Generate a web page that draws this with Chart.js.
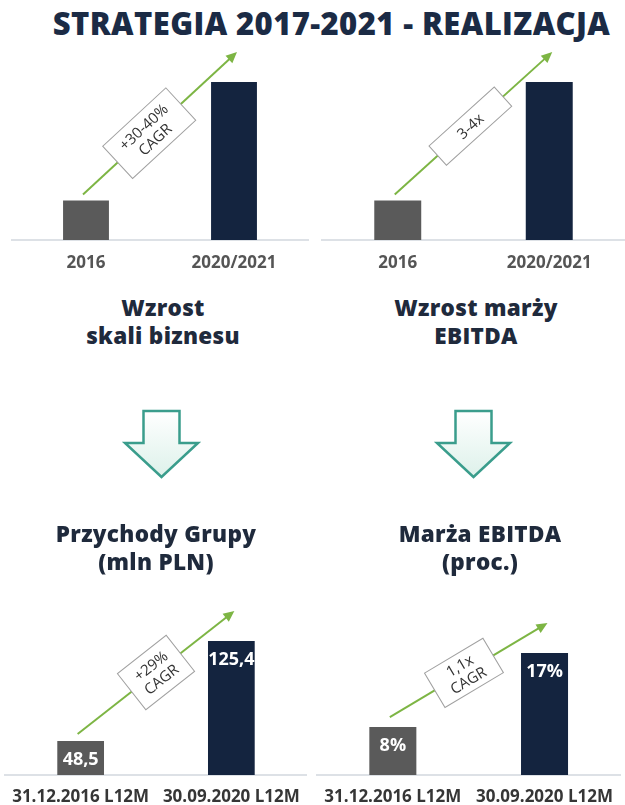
<!DOCTYPE html>
<html>
<head>
<meta charset="utf-8">
<script src="https://cdn.jsdelivr.net/npm/chart.js@4"></script>
<style>
  body { margin: 0; background: #fff; }
  #page { position: relative; width: 625px; height: 805px; overflow: hidden; font-family: 'Open Sans', sans-serif; }
  canvas { position: absolute; }
  .txt { position: absolute; text-align: center; font-weight: 800; color: #1f2a3c; font-size: 22.5px; line-height: 28px; letter-spacing: 0.3px; }
  #title { position: absolute; left: 0; width: 663px; top: 2px; text-align: center; font-weight: 800; font-size: 31px; color: #1b2b45; letter-spacing: 0.4px; }
</style>
</head>
<body>
<div id="page">
  <div id="title">STRATEGIA 2017-2021 - REALIZACJA</div>

  <canvas id="scaleChart" width="312" height="240" style="left:0;top:40px"></canvas>
  <canvas id="marginChart" width="313" height="240" style="left:312px;top:40px"></canvas>

  <div class="txt" style="left:43px;width:240px;top:294px">Wzrost<br>skali biznesu</div>
  <div class="txt" style="left:356px;width:240px;top:294px">Wzrost marży<br>EBITDA</div>

  <svg width="625" height="805" style="position:absolute;left:0;top:0">
    <defs>
      <linearGradient id="mint" x1="0" y1="0" x2="0" y2="1">
        <stop offset="0" stop-color="#ffffff"/>
        <stop offset="1" stop-color="#ddf1ea"/>
      </linearGradient>
    </defs>
    <polygon points="143.5,411 179.5,411 179.5,443 198,443 161.5,477 125,443 143.5,443" fill="url(#mint)" stroke="#3a9d8c" stroke-width="2.5" stroke-linejoin="miter"/>
    <polygon points="455.5,411 491.5,411 491.5,443 510,443 473.5,477 437,443 455.5,443" fill="url(#mint)" stroke="#3a9d8c" stroke-width="2.5" stroke-linejoin="miter"/>
  </svg>

  <div class="txt" style="left:36px;width:240px;top:520px">Przychody Grupy<br>(mln PLN)</div>
  <div class="txt" style="left:360px;width:240px;top:520px">Marża EBITDA<br>(proc.)</div>

  <canvas id="revenueChart" width="312" height="225" style="left:0;top:580px"></canvas>
  <canvas id="ebitdaChart" width="313" height="225" style="left:312px;top:580px"></canvas>
</div>

<script>
// schematic strategy targets (relative bar heights, no numbers shown)
const scaleLabels = ['2016', '2020/2021'];
const scaleValues = [1, 4];
const marginLabels = ['2016', '2020/2021'];
const marginValues = [1, 4];

// realisation
const revenueLabels = ['31.12.2016 L12M', '30.09.2020 L12M'];
const revenueValues = [48.5, 125.4];
const ebitdaLabels = ['31.12.2016 L12M', '30.09.2020 L12M'];
const ebitdaValues = [8, 17];

const growthNotes = {
  scale: ['+30-40%', 'CAGR'],
  margin: ['3-4x'],
  revenue: ['+29%', 'CAGR'],
  ebitda: ['1,1x', 'CAGR']
};

const barColors = ['#5a5a5a', '#14243f'];
const arrowGreen = '#7db544';

const growthArrow = {
  id: 'growthArrow',
  afterDatasetsDraw(chart, args, opts) {
    const ctx = chart.ctx;
    const bars = chart.getDatasetMeta(0).data;
    const a = bars[0], b = bars[1];

    // value labels inside the bars
    if (opts.format) {
      ctx.save();
      ctx.fillStyle = '#fff';
      ctx.font = 'bold 18px "Open Sans"';
      ctx.textAlign = 'center';
      ctx.textBaseline = 'middle';
      bars.forEach((bar, i) => {
        ctx.fillText(opts.format(chart.data.datasets[0].data[i]), bar.x, bar.y + 19);
      });
      ctx.restore();
    }

    // green growth arrow
    const x1 = a.x - 3, y1 = a.y - opts.startGap;
    const x2 = b.x + 3, y2 = b.y - 30;
    const ang = Math.atan2(y2 - y1, x2 - x1);
    ctx.save();
    ctx.strokeStyle = arrowGreen;
    ctx.fillStyle = arrowGreen;
    ctx.lineWidth = 2;
    ctx.beginPath();
    ctx.moveTo(x1, y1);
    ctx.lineTo(x2 - 8 * Math.cos(ang), y2 - 8 * Math.sin(ang));
    ctx.stroke();
    ctx.translate(x2, y2);
    ctx.rotate(ang);
    ctx.beginPath();
    ctx.moveTo(0, 0);
    ctx.lineTo(-11, -5);
    ctx.lineTo(-11, 5);
    ctx.closePath();
    ctx.fill();
    ctx.restore();

    // note box along the arrow
    const cx = x1 + (x2 - x1) * opts.at, cy = y1 + (y2 - y1) * opts.at;
    ctx.save();
    ctx.translate(cx, cy);
    ctx.rotate(ang);
    ctx.fillStyle = '#fff';
    ctx.strokeStyle = '#a0a0a0';
    ctx.lineWidth = 1;
    ctx.fillRect(-opts.w / 2, -opts.h / 2, opts.w, opts.h);
    ctx.strokeRect(-opts.w / 2, -opts.h / 2, opts.w, opts.h);
    ctx.fillStyle = '#333';
    ctx.font = '15px "Open Sans"';
    ctx.textAlign = 'center';
    ctx.textBaseline = 'middle';
    const lines = opts.note;
    lines.forEach((t, i) => {
      ctx.fillText(t, 0, (i - (lines.length - 1) / 2) * 17 + 1);
    });
    ctx.restore();
  }
};

function makeChart(id, labels, values, cfg) {
  return new Chart(document.getElementById(id), {
    type: 'bar',
    data: {
      labels: labels,
      datasets: [{
        data: values,
        backgroundColor: barColors,
        borderWidth: 0,
        barPercentage: 1,
        categoryPercentage: 0.31
      }]
    },
    options: {
      responsive: false,
      animation: false,
      layout: { padding: cfg.padding },
      plugins: {
        legend: { display: false },
        tooltip: { enabled: false },
        growthArrow: cfg.arrow
      },
      scales: {
        x: {
          grid: { display: false, drawTicks: false },
          border: { display: true, color: '#dde1e6', width: 2 },
          ticks: {
            color: cfg.tickColor,
            padding: cfg.tickPad,
            font: { family: 'Open Sans', weight: 'bold', size: 17 }
          },
          afterFit: s => { s.height = cfg.axisH; }
        },
        y: { display: false, min: cfg.min, max: cfg.max }
      }
    },
    plugins: [growthArrow]
  });
}

const fmtNum = v => String(v).replace('.', ',');
const fmtPct = v => v + '%';

makeChart('scaleChart', scaleLabels, scaleValues, {
  padding: { left: 12, right: 4, top: 42, bottom: 0 },
  min: 0, max: 4, axisH: 40, tickPad: 13, tickColor: '#555',
  arrow: { note: growthNotes.scale, at: 0.43, w: 86, h: 44, startGap: 6 }
});
makeChart('marginChart', marginLabels, marginValues, {
  padding: { left: 10, right: 0, top: 42, bottom: 0 },
  min: 0, max: 4, axisH: 40, tickPad: 13, tickColor: '#555',
  arrow: { note: growthNotes.margin, at: 0.48, w: 88, h: 26, startGap: 6 }
});
makeChart('revenueChart', revenueLabels, revenueValues, {
  padding: { left: 5, right: 1, top: 55, bottom: 0 },
  min: 22.4, max: 130, axisH: 30, tickPad: 12, tickColor: '#363636',
  arrow: { note: growthNotes.revenue, at: 0.5, w: 62, h: 46, startGap: 7, format: fmtNum }
});
makeChart('ebitdaChart', ebitdaLabels, ebitdaValues, {
  padding: { left: 5, right: 0, top: 55, bottom: 0 },
  min: 2.16, max: 19.2, axisH: 30, tickPad: 12, tickColor: '#363636',
  arrow: { note: growthNotes.ebitda, at: 0.47, w: 68, h: 40, startGap: 10, format: fmtPct }
});
</script>
</body>
</html>
